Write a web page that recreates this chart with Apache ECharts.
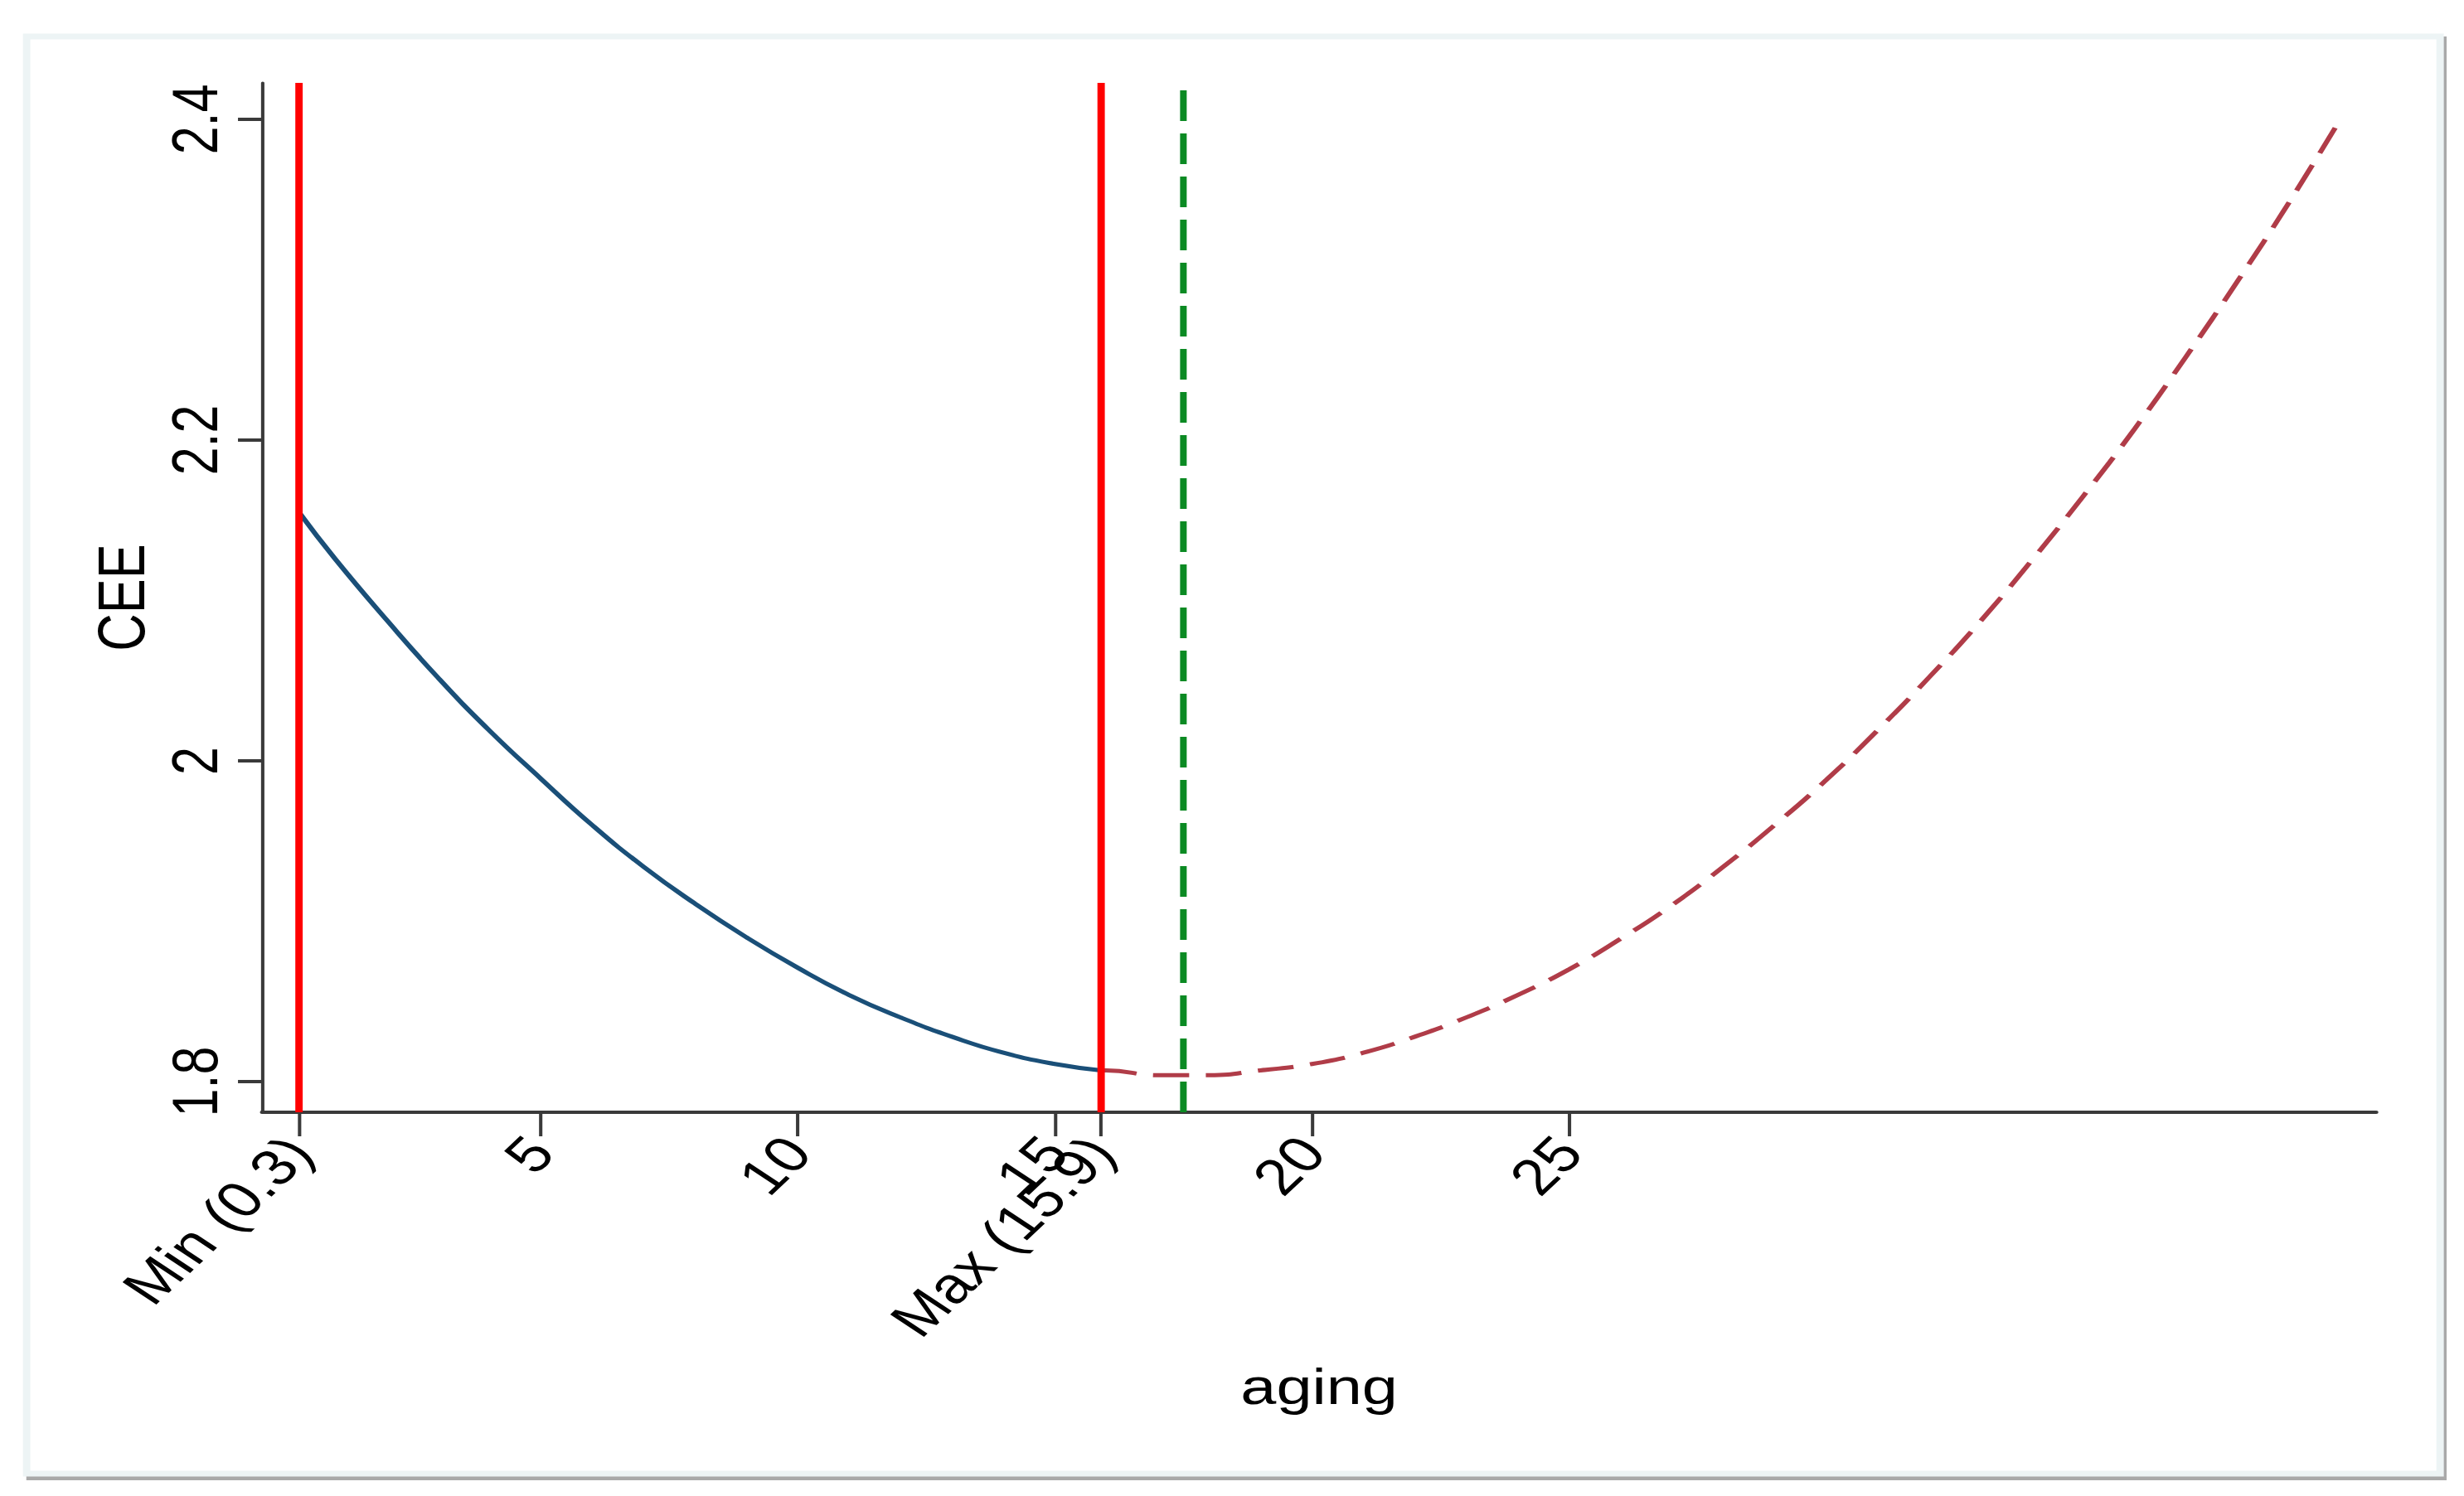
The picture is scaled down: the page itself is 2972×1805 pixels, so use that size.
<!DOCTYPE html>
<html>
<head>
<meta charset="utf-8">
<script src="https://cdn.jsdelivr.net/npm/echarts@6/dist/echarts.min.js"></script>
<style>
html,body{margin:0;padding:0;background:#fff;overflow:hidden;}
#wrap{width:2972px;height:1805px;overflow:hidden;}
/* the reference figure is stretched horizontally; reproduce that */
#chart{width:2340px;height:1805px;transform:scaleX(1.27009);transform-origin:0 0;}
</style>
</head>
<body>
<div id="wrap"><div id="chart"></div></div>
<script>
// ---- data ----
const solidX = [0.3, 1, 2, 3, 4, 5, 6, 7, 8, 9, 10, 11, 12, 13, 14, 15, 15.9];
const solidY = [2.155, 2.126, 2.088, 2.052, 2.019, 1.989, 1.960, 1.934, 1.911, 1.890, 1.871, 1.854, 1.840, 1.828, 1.818, 1.811, 1.807];
const dashX = [15.9, 16, 17, 17.5, 18, 19, 20, 21, 22, 23, 24, 25, 26, 27, 28, 29, 30, 31, 32, 33, 34, 35, 36, 37, 38, 39, 40];
const dashY = [1.807, 1.807, 1.804, 1.804, 1.804, 1.807, 1.811, 1.818, 1.828, 1.840, 1.854, 1.870, 1.889, 1.910, 1.934, 1.960, 1.988, 2.019, 2.052, 2.087, 2.125, 2.165, 2.207, 2.252, 2.299, 2.348, 2.400];
const redLineX = [0.3, 15.9];
const greenLineX = 17.5;
const greenLineTop = 2.4186;
const xTickValues = [0.3, 5, 10, 15, 15.9, 20, 25];
const xTickLabels = ['Min (0.3)', '5', '10', '15', 'Max (15.9)', '20', '25'];
const yTickValues = [1.8, 2, 2.2, 2.4];
const yTickLabels = ['1.8', '2', '2.2', '2.4'];
const xMin = -0.42, xMax = 40.7;
const yMin = 1.7809, yMax = 2.4227;

const FONT = 'Liberation Sans, Arial, Helvetica, sans-serif';
function lookup(vals, labels) {
  return function (v) {
    for (let i = 0; i < vals.length; i++) if (Math.abs(vals[i] - v) < 1e-6) return labels[i];
    return '';
  };
}

const chart = echarts.init(document.getElementById('chart'), null, {renderer: 'svg'});
const series = [
  {
    type: 'line', data: solidX.map((x, i) => [x, solidY[i]]),
    showSymbol: false, smooth: true, z: 3,
    lineStyle: {color: '#1a4f78', width: 5}
  },
  {
    type: 'line', data: dashX.map((x, i) => [x, dashY[i]]),
    showSymbol: false, smooth: true, z: 3,
    lineStyle: {color: '#b03c48', width: 5, type: [34, 16]}
  },
  {
    type: 'line', data: [[greenLineX, yMin], [greenLineX, greenLineTop]],
    showSymbol: false, z: 4,
    lineStyle: {color: '#0b8a23', width: 6.3, type: [37, 15]}
  }
];
redLineX.forEach(x => series.push({
  type: 'line', data: [[x, yMin], [x, yMax]],
  showSymbol: false, z: 5,
  lineStyle: {color: '#ff0000', width: 7}
}));

chart.setOption({
  animation: false,
  backgroundColor: '#ffffff',
  graphic: [
    {type: 'rect', z: -20, silent: true, shape: {x: 25, y: 44, width: 2298.5, height: 1742}, style: {fill: '#a9a9a9'}},
    {type: 'rect', z: -19, silent: true, shape: {x: 25.3, y: 44, width: 2292, height: 1734}, style: {fill: '#ffffff', stroke: '#edf4f5', lineWidth: 7}}
  ],
  grid: {left: 248.8, right: 83.3, top: 100, bottom: 463, containLabel: false},
  xAxis: {
    type: 'value', min: xMin, max: xMax,
    name: 'aging', nameLocation: 'middle', nameGap: 300,
    nameTextStyle: {fontFamily: FONT, fontSize: 61, color: '#000'},
    splitLine: {show: false},
    axisLine: {show: true, onZero: false, lineStyle: {color: '#3a3a3a', width: 4}},
    axisTick: {show: true, inside: false, length: 29, customValues: xTickValues, lineStyle: {color: '#3a3a3a', width: 3.2}},
    axisLabel: {show: true, customValues: xTickValues, rotate: 50, margin: 38,
      fontFamily: FONT, fontSize: 61, color: '#000', formatter: lookup(xTickValues, xTickLabels)}
  },
  yAxis: {
    type: 'value', min: yMin, max: yMax,
    name: 'CEE', nameLocation: 'middle', nameGap: 92, nameRotate: 90,
    nameTextStyle: {fontFamily: FONT, fontSize: 63, color: '#000'},
    splitLine: {show: false},
    axisLine: {show: true, onZero: false, lineStyle: {color: '#3a3a3a', width: 3.2}},
    axisTick: {show: true, inside: false, length: 22.8, customValues: yTickValues, lineStyle: {color: '#3a3a3a', width: 4}},
    axisLabel: {show: true, customValues: yTickValues, rotate: 90, margin: 33,
      fontFamily: FONT, fontSize: 61, color: '#000', formatter: lookup(yTickValues, yTickLabels)}
  },
  series: series
});
</script>
</body>
</html>
